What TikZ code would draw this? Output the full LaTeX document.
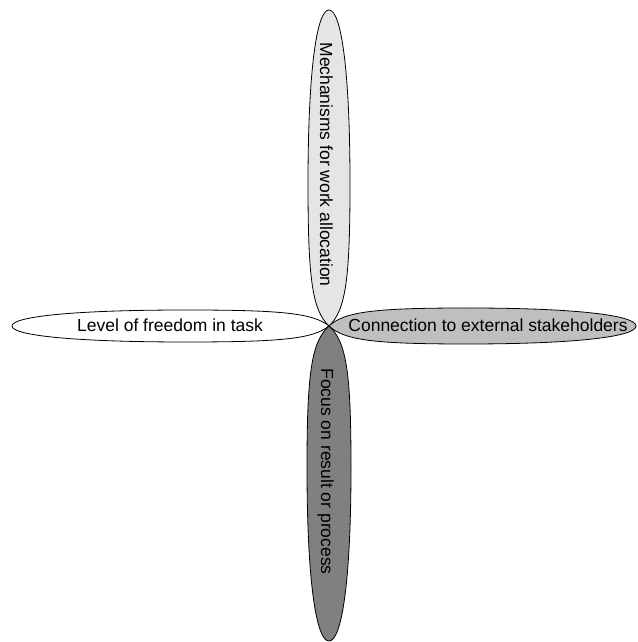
\documentclass[tikz,border=0pt]{standalone}
\usepackage{fontspec}
\setmainfont{Liberation Sans}
\usetikzlibrary{positioning}

% one petal: angle, length, half width, fill
\newcommand{\drawpetal}[4]{%
  \filldraw[petal, fill=#4, shift={(hub)}, rotate=#1]
    (0,0) .. controls ({0.05*#2},{0.8*#3}) and ({0.15*#2},#3) .. ({0.45*#2},#3)
          .. controls ({0.8*#2},#3) and (#2,{0.6*#3}) .. (#2,0)
          .. controls (#2,{-0.6*#3}) and ({0.8*#2},-#3) .. ({0.45*#2},-#3)
          .. controls ({0.15*#2},-#3) and ({0.05*#2},{-0.8*#3}) .. cycle;}

\begin{document}
\begin{tikzpicture}[
    x=1pt, y=1pt,
    petal/.style={draw=black, line width=0.8pt},
    lbl/.style={font=\fontsize{17.5}{20}\selectfont, inner sep=0pt, anchor=base},
]
\useasboundingbox (0,0) rectangle (637,642);
\coordinate (hub) at (329,316);

% Petals
\drawpetal{90}{316}{21}{black!10}
\drawpetal{180}{317}{16}{white}
\drawpetal{0}{307}{18}{black!25}
\drawpetal{-90}{315}{22}{black!50}

% Labels
\node[lbl] (freedom) at (170,310) {Level of freedom in task};
\node[lbl] (stake) at (488,310) {Connection to external stakeholders};
\node[lbl, rotate=-90] (alloc) at (320,477.5) {Mechanisms for work allocation};
\node[lbl, rotate=-90] (focus) at (321,170.5) {Focus on result or process};

\end{tikzpicture}
\end{document}
